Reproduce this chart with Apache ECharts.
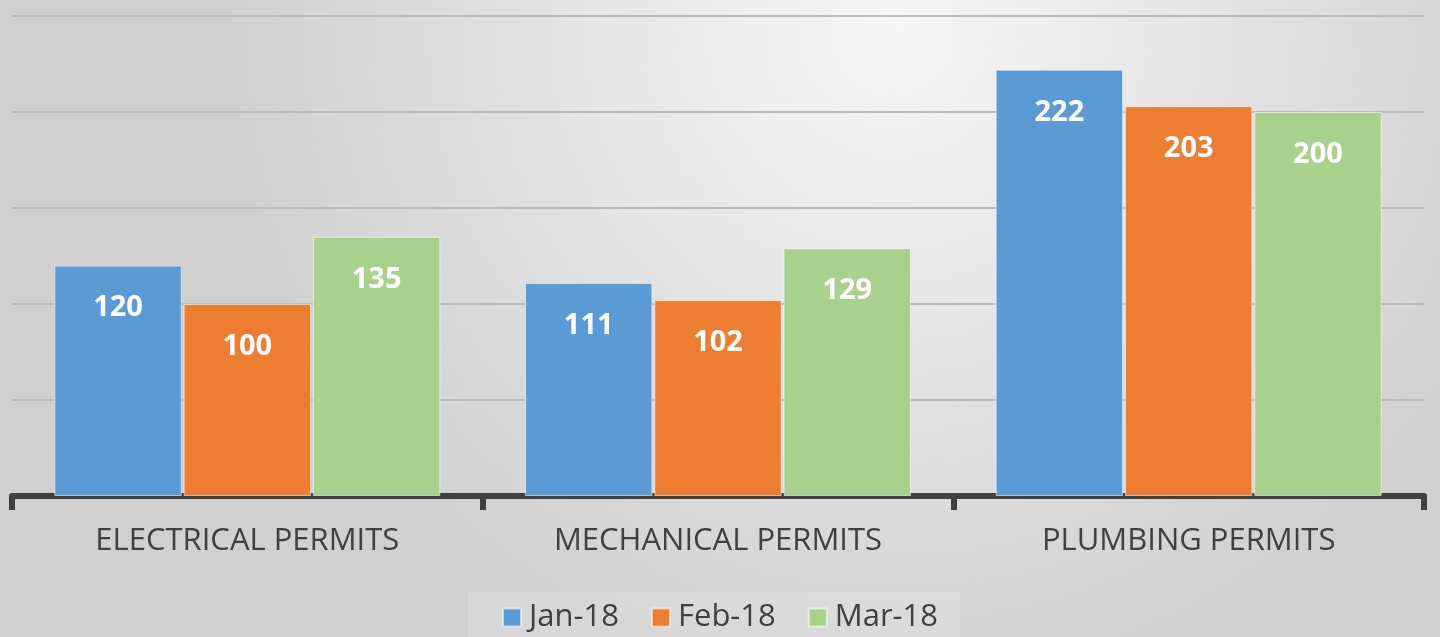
<!DOCTYPE html>
<html lang="en">
<head>
    <meta charset="UTF-8">
    <title>Permits</title>
    <script src="https://cdn.jsdelivr.net/npm/echarts@6/dist/echarts.min.js"></script>
    <style>
        body{
            padding: 0px;
            margin: 0px;
        }
        #bar{
            width:1440px;
            height:637px;
        }
    </style>
</head>
<body>
    <div id="bar"></div>
    <script>
    var categories = ['ELECTRICAL PERMITS', 'MECHANICAL PERMITS', 'PLUMBING PERMITS'];
    var seriesNames = ['Jan-18', 'Feb-18', 'Mar-18'];
    var jan18 = [120, 111, 222];
    var feb18 = [100, 102, 203];
    var mar18 = [135, 129, 200];
    var colors = ['#5b9bd5', '#ed7d31', '#a9d18e'];

    var chart = echarts.init(document.getElementById('bar'), null, {renderer: 'canvas'});

    function makeSeries(name, data, color) {
        return {
            name: name,
            type: 'bar',
            data: data,
            barGap: '1.5%',
            barCategoryGap: '18%',
            itemStyle: {color: color, borderColor: 'rgba(255,255,255,0.55)', borderWidth: 1},
            label: {
                show: true,
                position: 'insideTop',
                distance: 28,
                color: '#ffffff',
                fontFamily: 'Open Sans',
                fontWeight: 'bold',
                fontSize: 29
            }
        };
    }

    chart.setOption({
        backgroundColor: {
            type: 'radial', x: 0.62, y: 0.05, r: 1.05,
            colorStops: [
                {offset: 0, color: '#f6f6f6'},
                {offset: 1, color: '#d0d0d0'}
            ]
        },
        textStyle: {fontFamily: 'Open Sans'},
        grid: {left: 12, right: 16, top: 16, bottom: 141},
        legend: {
            data: seriesNames,
            bottom: -4,
            left: 'center',
            icon: 'rect',
            itemWidth: 18,
            itemHeight: 18,
            itemGap: 32,
            padding: [10, 22, 8, 34],
            backgroundColor: 'rgba(255,255,255,0.15)',
            textStyle: {fontSize: 31, color: '#404040', fontFamily: 'Open Sans', padding: [0, 0, 0, 3]}
        },
        xAxis: {
            type: 'category',
            data: categories,
            axisLine: {lineStyle: {color: '#404040', width: 6}},
            axisTick: {show: true, length: 14, lineStyle: {color: '#404040', width: 6}},
            axisLabel: {fontSize: 31, color: '#404040', margin: 30, fontFamily: 'Open Sans'}
        },
        yAxis: {
            type: 'value',
            min: 0,
            max: 250,
            interval: 50,
            axisLabel: {show: false},
            axisLine: {show: false},
            axisTick: {show: false},
            splitLine: {lineStyle: {color: '#bababa', width: 2}}
        },
        series: [
            makeSeries(seriesNames[0], jan18, colors[0]),
            makeSeries(seriesNames[1], feb18, colors[1]),
            makeSeries(seriesNames[2], mar18, colors[2])
        ]
    });
    </script>
</body>
</html>
